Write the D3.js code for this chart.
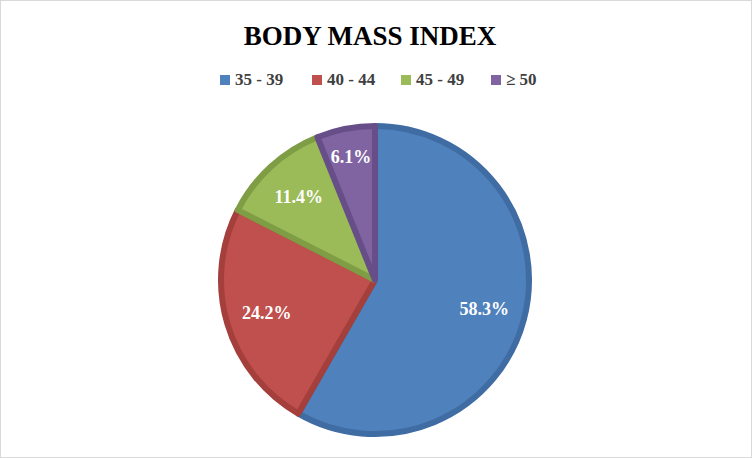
<!DOCTYPE html>
<html lang="en">
<head>
<meta charset="UTF-8">
<script src="https://d3js.org/d3.v7.min.js"></script>
<style>
  body { margin: 0; background: #fff; }
  svg { display: block; }
  text { font-family: "Liberation Serif", "DejaVu Serif", serif; font-weight: bold; }
</style>
</head>
<body>
<div id="chart"></div>
<script>
  // Chart data
  const categories = ["35 - 39", "40 - 44", "45 - 49", "\u2265 50"];
  const values = [58.3, 24.2, 11.4, 6.1];
  const fills = ["#4F81BD", "#C0504D", "#9BBB59", "#8064A2"];
  const edges = ["#3F6CA3", "#A43F3C", "#7F9D45", "#674E88"];

  const width = 752, height = 458;
  const cx = 375, cy = 280, r = 157;

  const svg = d3.select("#chart").append("svg")
    .attr("width", width).attr("height", height);

  svg.append("rect")
    .attr("x", 0.5).attr("y", 0.5)
    .attr("width", width - 1).attr("height", height - 1)
    .attr("fill", "#fff").attr("stroke", "#d9d9d9");

  svg.append("text")
    .attr("x", 370).attr("y", 45)
    .attr("text-anchor", "middle")
    .attr("font-size", 27)
    .attr("fill", "#000")
    .text("BODY MASS INDEX");

  // Legend
  const legendX = [220, 312, 401, 491];
  const legend = svg.selectAll(".leg").data(categories).join("g")
    .attr("transform", (d, i) => `translate(${legendX[i]},84)`);
  legend.append("rect").attr("x", 0).attr("y", -9).attr("width", 10).attr("height", 10)
    .attr("fill", (d, i) => fills[i]);
  legend.append("text").attr("x", 15).attr("y", 1)
    .attr("font-size", 17).attr("fill", "#404040")
    .text(d => d);

  // Pie
  const pie = d3.pie().sort(null).value(d => d);
  const arcs = pie(values);
  const arc = d3.arc().innerRadius(0).outerRadius(r - 3);
  const g = svg.append("g").attr("transform", `translate(${cx},${cy})`);

  g.selectAll("path").data(arcs).join("path")
    .attr("d", arc)
    .attr("fill", (d, i) => fills[i])
    .attr("stroke", (d, i) => edges[i])
    .attr("stroke-width", 6)
    .attr("stroke-linejoin", "round");

  const labelArc = d3.arc().innerRadius(r * 0.72).outerRadius(r * 0.72);
  const labelArcSmall = d3.arc().innerRadius(r * 0.8).outerRadius(r * 0.8);
  g.selectAll(".lbl").data(arcs).join("text")
    .attr("transform", (d, i) => `translate(${(i === 3 ? labelArcSmall : labelArc).centroid(d)})`)
    .attr("text-anchor", "middle")
    .attr("dy", "0.35em")
    .attr("font-size", 18)
    .attr("fill", "#fff")
    .text(d => d.data.toFixed(1) + "%");
</script>
</body>
</html>
